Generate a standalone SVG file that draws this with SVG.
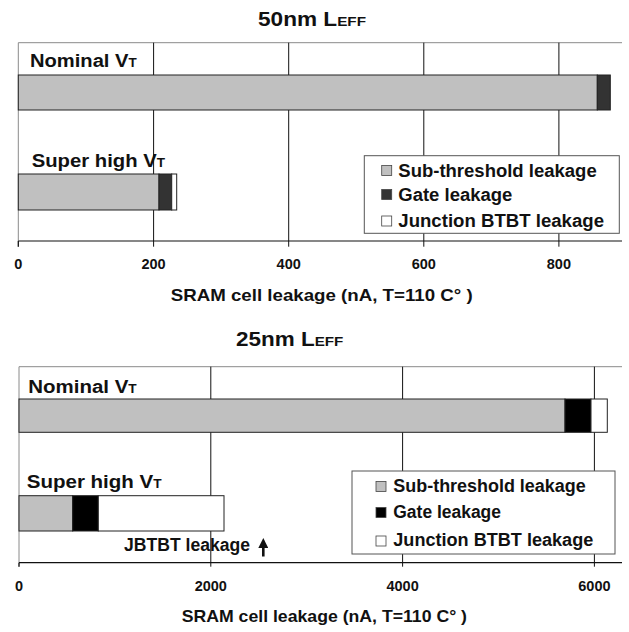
<svg xmlns="http://www.w3.org/2000/svg" width="629" height="632" viewBox="0 0 629 632">
<defs>
<style>
text{font-family:"Liberation Sans",Arial,sans-serif;font-weight:bold;fill:#111;}
.t{font-size:20px;}
.sc{font-size:13.5px;}
.lab{font-size:18px;}
.sub{font-size:12px;}
.leg{font-size:18px;}
.tick{font-size:14.5px;text-anchor:middle;}
.ax{font-size:17px;}
.frame{stroke:#8a8a8a;stroke-width:1;fill:none;}
.grid{stroke:#111;stroke-width:1;fill:none;}
.axis{stroke:#111;stroke-width:1.2;fill:none;}
.bar{stroke:#222;stroke-width:1;}
.st{fill:#c0c0c0;}
.g1{fill:#333333;}
.g2{fill:#000000;}
.jb{fill:#ffffff;}
.legbox{fill:#ffffff;stroke:#555;stroke-width:1;}
.sw{stroke:#444;stroke-width:0.8;}
</style>
<marker id="ah" viewBox="0 0 10 10" refX="1" refY="5" markerWidth="10" markerHeight="10" markerUnits="userSpaceOnUse" orient="auto">
<path d="M0,0 L10,5 L0,10 Z" fill="#111"/>
</marker>
</defs>

<!-- ===== Top chart: 50nm ===== -->
<g id="chart50">
<text class="t" x="258" y="26" textLength="108" lengthAdjust="spacingAndGlyphs">50nm L<tspan class="sc">EFF</tspan></text>
<line class="frame" x1="18.3" y1="42.7" x2="622" y2="42.7"/>
<line class="frame" x1="18.3" y1="42.7" x2="18.3" y2="246.7"/>
<g id="grid50">
<line class="grid" x1="153.6" y1="42.7" x2="153.6" y2="246.7"/>
<line class="grid" x1="288.7" y1="42.7" x2="288.7" y2="246.7"/>
<line class="grid" x1="423.8" y1="42.7" x2="423.8" y2="246.7"/>
<line class="grid" x1="558.9" y1="42.7" x2="558.9" y2="246.7"/>
</g>
<line class="axis" x1="18.3" y1="241" x2="622" y2="241"/>
<line class="axis" x1="18.3" y1="241" x2="18.3" y2="246.7"/>
<g id="bar50-nominal">
<rect class="bar st" x="18.3" y="75" width="579" height="35"/>
<rect class="bar g1" x="597.3" y="75" width="13" height="35"/>
</g>
<g id="bar50-shvt">
<rect class="bar st" x="18.3" y="174" width="140.7" height="36"/>
<rect class="bar g1" x="159" y="174" width="12.7" height="36"/>
<rect class="bar jb" x="171.7" y="174" width="5" height="36"/>
</g>
<text class="lab" x="30" y="66.7" textLength="106.7" lengthAdjust="spacingAndGlyphs">Nominal V<tspan class="sub">T</tspan></text>
<text class="lab" x="31.7" y="167.3" textLength="133.3" lengthAdjust="spacingAndGlyphs">Super high V<tspan class="sub">T</tspan></text>
<g id="legend50">
<rect class="legbox" x="364.3" y="155.7" width="255" height="77.6"/>
<rect class="sw st" x="381.7" y="165.5" width="10" height="10"/>
<rect class="sw g1" x="381.7" y="189.5" width="10" height="10"/>
<rect class="sw jb" x="381.7" y="216" width="10" height="10"/>
<text class="leg" x="398.3" y="176.5" textLength="198.4" lengthAdjust="spacingAndGlyphs">Sub-threshold leakage</text>
<text class="leg" x="398.3" y="200.5" textLength="114" lengthAdjust="spacingAndGlyphs">Gate leakage</text>
<text class="leg" x="398.3" y="226.5" textLength="205.7" lengthAdjust="spacingAndGlyphs">Junction BTBT leakage</text>
</g>
<g id="ticks50">
<text class="tick" x="18.3" y="269">0</text>
<text class="tick" x="153.6" y="269">200</text>
<text class="tick" x="288.7" y="269">400</text>
<text class="tick" x="423.8" y="269">600</text>
<text class="tick" x="558.9" y="269">800</text>
</g>
<text class="ax" x="170.7" y="301.3" textLength="302" lengthAdjust="spacingAndGlyphs">SRAM cell leakage (nA, T=110 C° )</text>
</g>

<!-- ===== Bottom chart: 25nm ===== -->
<g id="chart25">
<text class="t" x="236" y="346" textLength="107.3" lengthAdjust="spacingAndGlyphs">25nm L<tspan class="sc">EFF</tspan></text>
<line class="frame" x1="19" y1="366.7" x2="622" y2="366.7"/>
<line class="frame" x1="19" y1="366.7" x2="19" y2="566.7"/>
<g id="grid25">
<line class="grid" x1="210.8" y1="366.7" x2="210.8" y2="566.7"/>
<line class="grid" x1="402.6" y1="366.7" x2="402.6" y2="566.7"/>
<line class="grid" x1="594.4" y1="366.7" x2="594.4" y2="566.7"/>
</g>
<line class="axis" x1="19" y1="562.7" x2="622" y2="562.7"/>
<line class="axis" x1="19" y1="562.7" x2="19" y2="566.7"/>
<g id="bar25-nominal">
<rect class="bar st" x="19" y="399" width="546" height="33.3"/>
<rect class="bar g2" x="565" y="399" width="26" height="33.3"/>
<rect class="bar jb" x="591" y="399" width="16.3" height="33.3"/>
</g>
<g id="bar25-shvt">
<rect class="bar st" x="19" y="495.7" width="53.7" height="35.3"/>
<rect class="bar g2" x="72.7" y="495.7" width="25.6" height="35.3"/>
<rect class="bar jb" x="98.3" y="495.7" width="125.7" height="35.3"/>
</g>
<text class="lab" x="28.3" y="392.7" textLength="108.4" lengthAdjust="spacingAndGlyphs">Nominal V<tspan class="sub">T</tspan></text>
<text class="lab" x="26.7" y="488.3" textLength="135" lengthAdjust="spacingAndGlyphs">Super high V<tspan class="sub">T</tspan></text>
<g id="legend25">
<rect class="legbox" x="352" y="471" width="263" height="83"/>
<rect class="sw st" x="376" y="481.5" width="10" height="10"/>
<rect class="sw g2" x="376" y="507.5" width="10" height="10"/>
<rect class="sw jb" x="376" y="536" width="10" height="10"/>
<text class="leg" x="393.3" y="491.5" textLength="192.4" lengthAdjust="spacingAndGlyphs">Sub-threshold leakage</text>
<text class="leg" x="393.3" y="517.5" textLength="107.7" lengthAdjust="spacingAndGlyphs">Gate leakage</text>
<text class="leg" x="393.3" y="546" textLength="200" lengthAdjust="spacingAndGlyphs">Junction BTBT leakage</text>
</g>
<g id="note25">
<text class="lab" x="124" y="550.7" textLength="126" lengthAdjust="spacingAndGlyphs">JBTBT leakage</text>
</g>
<g id="ticks25">
<text class="tick" x="19" y="590.7">0</text>
<text class="tick" x="210.8" y="590.7">2000</text>
<text class="tick" x="402.6" y="590.7">4000</text>
<text class="tick" x="594.4" y="590.7">6000</text>
</g>
<text class="ax" x="181.7" y="621.7" textLength="285.3" lengthAdjust="spacingAndGlyphs">SRAM cell leakage (nA, T=110 C° )</text>
</g>

<g id="connectors">
<line x1="263.3" y1="556.5" x2="263.3" y2="547" stroke="#111" stroke-width="2.6" marker-end="url(#ah)"/>
</g>
</svg>
